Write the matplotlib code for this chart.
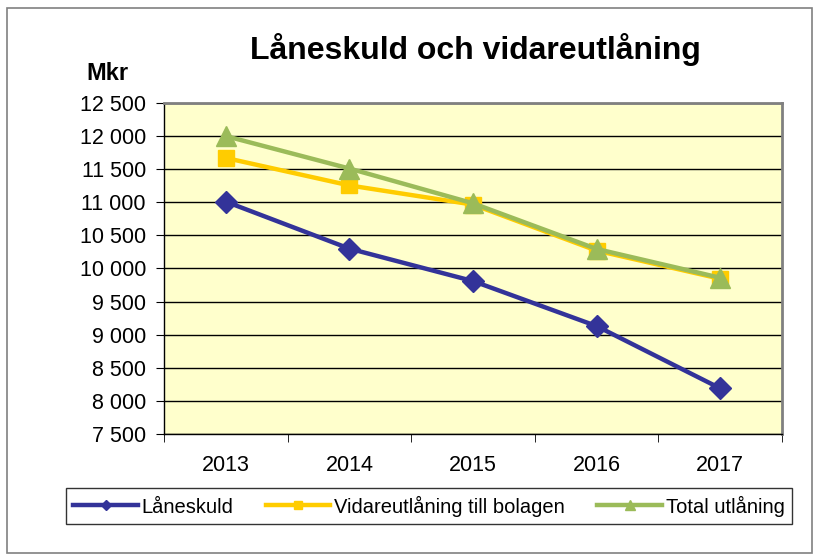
import matplotlib.pyplot as plt
from matplotlib.patches import Rectangle
from matplotlib.ticker import FuncFormatter, FixedLocator

plt.rcParams['font.family'] = ['Liberation Sans', 'DejaVu Sans']

years = ['2013', '2014', '2015', '2016', '2017']
laneskuld = [11010, 10300, 9810, 9130, 8190]
vidareutlaning = [11670, 11255, 10965, 10270, 9845]
total = [12000, 11510, 10985, 10295, 9860]

fig = plt.figure(figsize=(8.19, 5.6), dpi=100)
ax = fig.add_axes([164 / 819, 1 - 434 / 560, (782 - 164) / 819, (434 - 103) / 560])

# outer chart border
fig.patches.append(Rectangle((7 / 819, 7 / 560), 805 / 819, 545 / 560, transform=fig.transFigure,
                             fill=False, edgecolor='#808080', linewidth=1.2))

ax.set_facecolor('#FFFFCC')
x = range(len(years))
ax.plot(x, laneskuld, color='#333399', lw=3.2, marker='D', markersize=11, label='Låneskuld', zorder=3)
ax.plot(x, vidareutlaning, color='#FFCC00', lw=3.2, marker='s', markersize=12, label='Vidareutlåning till bolagen', zorder=4)
ax.plot(x, total, color='#9BBB59', lw=3.2, marker='^', markersize=14, label='Total utlåning', zorder=5)

ax.set_xlim(-0.5, 4.5)
ax.set_ylim(7500, 12500)
ax.set_yticks(range(7500, 12501, 500))
ax.yaxis.set_major_formatter(FuncFormatter(lambda v, p: f'{int(v):,}'.replace(',', ' ')))
ax.grid(axis='y', color='black', lw=1)
ax.set_axisbelow(True)

ax.set_xticks(list(x))
ax.set_xticklabels(years)
ax.xaxis.set_minor_locator(FixedLocator([-0.5, 0.5, 1.5, 2.5, 3.5, 4.5]))
ax.tick_params(axis='x', which='major', length=0, pad=15, labelsize=15.5)
ax.tick_params(axis='x', which='minor', length=6, direction='out')
ax.tick_params(axis='y', length=6, direction='out', labelsize=15.5, pad=7)

for s in ['top', 'right']:
    ax.spines[s].set_color('#808080')
    ax.spines[s].set_linewidth(2)
for s in ['left', 'bottom']:
    ax.spines[s].set_color('black')
    ax.spines[s].set_linewidth(1)

fig.text(475 / 819, 1 - 50 / 560, 'Låneskuld och vidareutlåning', ha='center', va='center',
         fontsize=23, fontweight='bold')
fig.text(107 / 819, 1 - 74 / 560, 'Mkr', ha='center', va='center', fontsize=17, fontweight='bold')

leg = fig.legend(loc='center', bbox_to_anchor=(429 / 819, 1 - 506 / 560), ncol=3, fontsize=14.5,
                 frameon=True, fancybox=False, edgecolor='black', handlelength=3.2,
                 columnspacing=1.6, handletextpad=0.2, borderpad=0.35, markerscale=0.5)
leg.get_frame().set_linewidth(1)

fig.savefig('out.png', dpi=100)
